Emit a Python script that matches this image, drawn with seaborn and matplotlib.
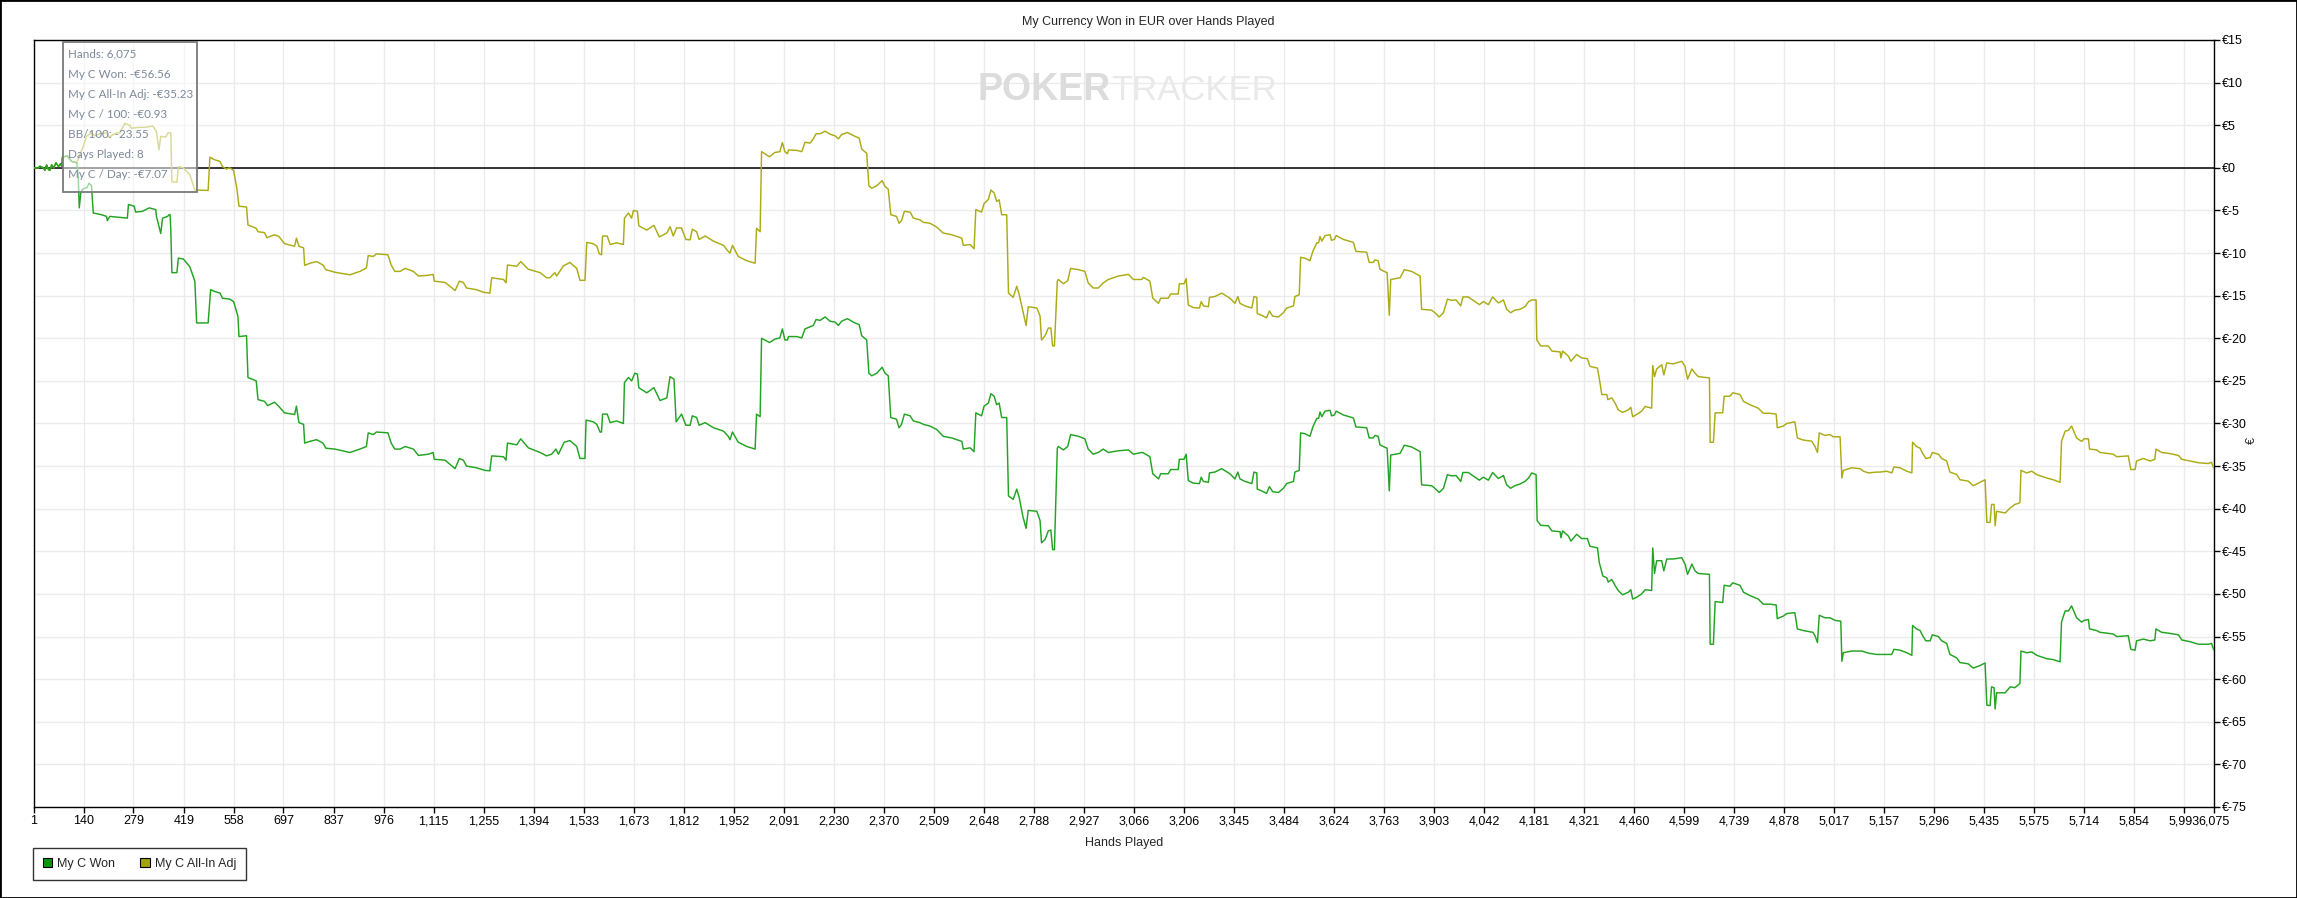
import matplotlib
matplotlib.use("Agg")
import matplotlib.pyplot as plt
from matplotlib.patches import Rectangle, Patch
import seaborn as sns
import pandas as pd

# ---------------- data ----------------
won_hands = [1, 14, 18, 28, 32, 37, 42, 46, 51, 57, 63, 70, 76, 79, 81, 95, 100, 107, 121,
    125, 128, 132, 137, 150, 155, 162, 167, 190, 204, 206, 213, 262, 265, 281, 285, 304, 323, 341, 343,
    355, 360, 374, 378, 381, 383, 386, 400, 404, 418, 436, 450, 455, 487, 494, 505, 520, 527, 547, 558,
    570, 573, 594, 598, 621, 626, 644, 653, 672, 684, 700, 728, 733, 740, 753, 756, 770, 789, 807, 815,
    840, 882, 910, 928, 933, 947, 956, 988, 997, 1007,
    1022, 1036, 1059, 1073, 1101, 1114, 1117, 1147, 1161, 1175, 1187, 1198, 1207, 1235, 1258, 1272, 1277,
    1310, 1317, 1321, 1347, 1358, 1379, 1412, 1430, 1444, 1456, 1463, 1479, 1495, 1514, 1523, 1537, 1540,
    1560, 1570, 1579, 1583, 1586, 1599, 1607, 1625, 1644, 1647, 1658, 1667, 1676, 1683, 1687, 1709, 1729,
    1746, 1765, 1774, 1785, 1791, 1806, 1818, 1830, 1836, 1848, 1855, 1872, 1895, 1923, 1936, 1941, 1948,
    1964, 1988, 2011, 2015, 2025, 2029, 2051, 2066,
    2080, 2087, 2094, 2101, 2104, 2127, 2141, 2150, 2173, 2181, 2192, 2206, 2220, 2234, 2243, 2252, 2268,
    2289, 2301, 2308, 2322, 2328, 2336, 2350, 2365, 2373, 2382, 2389, 2405, 2412, 2419, 2427, 2443, 2452,
    2470, 2480, 2498, 2517, 2535, 2559, 2587, 2591, 2610, 2621, 2626, 2642, 2649, 2661, 2668, 2677, 2684,
    2691, 2698, 2712, 2717, 2730, 2740, 2747, 2757, 2766, 2772, 2796, 2805, 2809, 2819, 2828, 2835, 2840,
    2845, 2853, 2856, 2870, 2882, 2890, 2912, 2930, 2939, 2953, 2967, 2981, 2995, 3023, 3051, 3065, 3088,
    3093, 3111, 3119, 3135, 3141, 3162, 3169, 3190, 3193, 3206, 3212, 3218, 3232, 3249, 3254, 3260, 3274,
    3277, 3292, 3311, 3334, 3348, 3356, 3362, 3376, 3395, 3401, 3409, 3410, 3422, 3436, 3444, 3453, 3469,
    3483, 3492, 3511, 3515, 3527, 3531, 3543, 3557, 3565, 3576, 3581, 3585, 3590, 3599, 3613, 3617, 3625,
    3630, 3650, 3678, 3685, 3715, 3722, 3733, 3738, 3747, 3752, 3761, 3772, 3778, 3782, 3808, 3820, 3840,
    3864, 3868, 3896, 3905, 3917, 3929, 3940, 3952, 3964, 3977, 3983, 3998, 4012, 4029, 4040, 4054, 4066,
    4082, 4096, 4105, 4116, 4128,
    4142, 4156, 4166, 4175, 4187, 4190, 4200, 4221, 4231, 4254, 4256, 4261, 4277, 4284, 4300, 4314, 4330,
    4337, 4358, 4363, 4373, 4384, 4388, 4398, 4407, 4416, 4428, 4444, 4451, 4456, 4467, 4481, 4491, 4509,
    4512, 4517, 4523, 4537, 4543, 4551, 4569, 4593, 4602, 4609, 4621, 4630, 4639, 4670, 4672, 4681, 4686,
    4707, 4711, 4727, 4735, 4755, 4765, 4783, 4806, 4820, 4839, 4856, 4859, 4876, 4885, 4908, 4915, 4932,
    4958, 4964, 4971, 4976, 4992, 5006, 5020, 5036, 5039, 5043, 5066, 5095, 5113, 5136,
    5145, 5178, 5184, 5201, 5220, 5234, 5236, 5247, 5257, 5264, 5273, 5285, 5291, 5308, 5317, 5331, 5340,
    5359, 5368, 5391, 5405, 5424, 5438, 5443, 5452, 5456, 5463, 5466, 5470, 5494, 5508, 5521, 5535, 5538,
    5554, 5568, 5582, 5610, 5628, 5647, 5651, 5661, 5670, 5679, 5693, 5707, 5714, 5726, 5729, 5749, 5758,
    5777, 5795, 5805, 5837, 5844, 5856, 5860, 5879, 5898, 5911, 5914, 5930, 5949, 5977, 5986, 6009, 6032,
    6060, 6069, 6075]

won_values = [0.0, 0.0, 0.2, 0.0, -0.3, 0.35, -0.2, -0.3, 0.35, 0.0, 0.6, 0.15, 0.5, 0.15, 1.25, 1.4, 1.1, 0.75, 0.6,
    -1.0, -4.7, -3.0, -2.5, -2.3, -1.8, -2.1, -5.3, -5.5, -5.7, -6.2, -5.7, -5.9, -4.3, -4.5, -5.2, -5.1, -4.7, -4.9, -5.7,
    -7.7, -5.9, -5.7, -5.5, -5.5, -7.3, -12.3, -12.3, -10.6, -10.7, -11.6, -13.3, -18.2, -18.2, -14.3, -14.5, -14.7, -15.3, -15.4, -15.7,
    -17.4, -19.8, -19.7, -24.6, -25.0, -27.2, -27.4, -27.9, -27.5, -28.0, -28.75, -28.95, -27.97, -29.9, -30.1, -32.3, -32.1, -31.9, -32.3, -32.9,
    -33.0, -33.4, -33.0, -32.7, -31.1, -31.3, -31.0, -31.1, -32.3, -33.0,
    -33.0, -32.7, -33.0, -33.75, -33.6, -33.4, -34.2, -34.3, -34.8, -35.3, -34.1, -34.3, -35.0, -35.2, -35.5, -35.55, -33.8,
    -33.9, -34.3, -32.3, -32.5, -31.8, -32.85, -33.4, -33.8, -33.6, -33.0, -33.6, -32.2, -32.0, -32.7, -34.1, -34.1, -29.6,
    -29.8, -30.1, -31.0, -31.0, -28.9, -28.9, -29.9, -29.7, -30.0, -25.2, -24.6, -25.0, -24.1, -24.2, -25.8, -26.4, -25.8,
    -27.3, -27.0, -24.5, -24.8, -29.8, -28.9, -30.2, -30.2, -29.1, -29.3, -30.2, -29.9, -30.5, -30.9, -31.5, -31.9, -31.0,
    -32.2, -32.7, -33.0, -28.9, -29.2, -20.0, -20.5, -20.1,
    -19.96, -18.9, -20.2, -20.2, -19.8, -19.8, -19.96, -18.9, -18.5, -17.8, -17.9, -17.5, -18.0, -18.1, -18.5, -18.0, -17.7,
    -18.2, -18.4, -19.7, -20.2, -24.1, -24.4, -24.1, -23.4, -24.1, -24.4, -29.3, -29.5, -30.5, -30.1, -28.9, -29.1, -29.7,
    -29.9, -30.1, -30.3, -30.7, -31.5, -31.7, -32.1, -33.0, -32.85, -33.3, -28.75, -29.1, -27.97, -27.6, -26.5, -26.8, -27.8,
    -27.6, -29.3, -29.3, -38.5, -38.9, -37.7, -38.7, -40.9, -42.3, -40.2, -40.3, -41.4, -44.0, -43.6, -42.6, -42.5, -44.8,
    -44.8, -32.9, -32.7, -33.1, -32.7, -31.3, -31.5, -31.8, -33.0, -33.6, -33.4, -33.0, -33.4, -33.2, -33.1, -33.6, -33.4,
    -33.45, -33.9, -35.9, -36.5, -35.9, -35.9, -35.4, -35.4, -34.2, -34.2, -33.6, -36.7, -37.0, -37.05, -36.3, -36.8, -36.9,
    -35.8, -35.7, -35.3, -35.9, -36.5, -35.7, -36.5, -36.8, -37.05, -35.7, -35.8, -37.7, -37.9, -38.2, -37.4, -38.0, -38.1,
    -37.6, -37.05, -36.8, -35.7, -35.5, -31.1, -31.2, -31.5, -30.4, -29.4, -29.4, -28.65, -29.2, -28.55, -28.45, -29.1, -29.0,
    -28.55, -29.0, -29.35, -30.4, -30.5, -31.7, -31.7, -31.4, -31.5, -32.5, -32.7, -32.9, -37.9, -33.7, -33.5, -32.55, -32.75,
    -33.3, -37.2, -37.3, -37.6, -38.1, -37.6, -36.0, -36.15, -36.1, -36.8, -35.75, -35.75, -36.15, -36.65, -36.3, -36.65, -35.75,
    -36.46, -36.1, -37.2, -37.6, -37.3,
    -37.1, -36.8, -36.4, -35.8, -36.0, -41.4, -41.95, -42.0, -42.6, -42.7, -43.4, -42.6, -43.2, -43.8, -43.0, -43.5, -43.5,
    -44.4, -44.6, -46.3, -47.9, -48.1, -48.6, -48.3, -49.0, -49.6, -50.1, -49.8, -49.5, -50.6, -50.4, -50.0, -49.5, -49.6,
    -44.6, -47.6, -46.1, -46.1, -47.3, -45.9, -45.9, -45.75, -46.5, -47.7, -46.5, -47.3, -47.6, -47.7, -55.9, -55.9, -50.9,
    -51.0, -48.98, -49.1, -48.7, -48.98, -49.8, -50.2, -50.6, -51.2, -51.2, -51.3, -52.9, -52.6, -52.3, -52.2, -54.1, -54.3,
    -54.5, -54.9, -55.7, -52.5, -52.8, -52.8, -53.1, -53.2, -57.9, -56.9, -56.7, -56.7, -56.95, -57.1,
    -57.1, -57.1, -56.5, -56.6, -56.9, -57.2, -53.7, -54.1, -54.3, -54.9, -55.5, -55.5, -54.8, -55.0, -55.5, -55.8, -57.1,
    -57.5, -58.05, -58.2, -58.7, -58.4, -58.1, -63.05, -63.1, -60.9, -61.0, -63.5, -61.6, -61.6, -60.9, -61.0, -60.5, -56.7,
    -56.9, -56.8, -57.2, -57.6, -57.7, -57.97, -53.3, -52.0, -52.0, -51.4, -52.8, -53.3, -53.1, -53.0, -54.1, -54.3, -54.5,
    -54.6, -54.7, -55.0, -54.9, -56.5, -56.6, -55.5, -55.3, -55.5, -55.4, -54.1, -54.5, -54.6, -54.8, -55.4, -55.6, -55.9,
    -55.9, -55.8, -56.56]

adj_hands = [1, 14, 18, 28, 32, 37, 42, 46, 51, 57, 63, 70, 76, 79, 81, 95, 100, 107, 121,
    129, 139, 148, 162, 171, 185, 204, 211, 231, 240, 255, 269, 273, 296, 310, 333, 343, 350, 355, 369,
    375, 383, 386, 400, 404, 418, 436, 450, 487, 492, 505, 520, 527, 538, 547, 558, 567, 573, 594, 598,
    621, 626, 644, 651, 672, 684, 700, 728, 733, 740, 753, 756, 770, 789, 807, 815, 840, 882, 910, 928,
    933, 947, 956, 988, 997, 1007,
    1022, 1036, 1059, 1073, 1101, 1114, 1117, 1147, 1161, 1175, 1187, 1198, 1207, 1235, 1254, 1272, 1277,
    1310, 1317, 1321, 1347, 1358, 1379, 1412, 1430, 1439, 1453, 1458, 1477, 1495, 1514, 1523, 1537, 1542,
    1560, 1570, 1577, 1583, 1586, 1599, 1607, 1625, 1644, 1647, 1658, 1667, 1672, 1683, 1687, 1709, 1729,
    1744, 1765, 1774, 1783, 1792, 1806, 1818, 1830, 1836, 1848, 1855, 1872, 1895, 1923, 1936, 1941, 1948,
    1964, 1988, 2011, 2015, 2025, 2029, 2051, 2066,
    2080, 2087, 2094, 2101, 2104, 2127, 2141, 2150, 2164, 2173, 2181, 2192, 2206, 2220, 2234, 2243, 2252,
    2268, 2289, 2301, 2308, 2322, 2328, 2336, 2350, 2365, 2373, 2382, 2389, 2405, 2412, 2419, 2427, 2443,
    2452, 2470, 2480, 2498, 2517, 2535, 2559, 2587, 2591, 2610, 2621, 2626, 2642, 2649, 2661, 2668, 2677,
    2684, 2691, 2698, 2712, 2717, 2730, 2740, 2747, 2757, 2766, 2772, 2796, 2805, 2809, 2819, 2828, 2835,
    2840, 2845, 2853, 2856, 2870, 2882, 2890, 2912, 2930, 2939, 2953, 2967, 2981, 2995, 3023, 3051, 3065,
    3088,
    3093, 3111, 3119, 3135, 3141, 3162, 3169, 3190, 3193, 3206, 3212, 3218, 3232, 3249, 3254, 3260, 3274,
    3277, 3292, 3311, 3334, 3348, 3356, 3362, 3376, 3395, 3401, 3409, 3410, 3422, 3436, 3444, 3453, 3469,
    3483, 3492, 3511, 3515, 3527, 3531, 3543, 3557, 3565, 3576, 3581, 3585, 3590, 3599, 3613, 3617, 3625,
    3630, 3650, 3678, 3685, 3715, 3722, 3733, 3738, 3747, 3752, 3761, 3772, 3778, 3782, 3808, 3820, 3840,
    3864, 3868, 3896, 3905, 3917, 3929, 3940, 3952, 3964, 3977, 3983, 3998, 4012, 4029, 4040, 4054, 4066,
    4082, 4096, 4105, 4116, 4128,
    4142, 4156, 4166, 4175, 4187, 4189, 4200, 4221, 4231, 4254, 4256, 4261, 4277, 4284, 4300, 4314, 4330,
    4337, 4358, 4365, 4370, 4384, 4387, 4398, 4407, 4416, 4428, 4444, 4451, 4456, 4467, 4481, 4491, 4509,
    4512, 4517, 4523, 4537, 4543, 4551, 4569, 4593, 4602, 4609, 4621, 4630, 4639, 4670, 4672, 4681, 4686,
    4707, 4711, 4727, 4735, 4755, 4765, 4783, 4806, 4820, 4839, 4856, 4859, 4876, 4885, 4908, 4915, 4932,
    4955, 4964, 4971, 4976, 4992, 5006, 5015, 5034, 5039, 5043, 5066, 5090, 5099, 5113, 5136,
    5145, 5164, 5178, 5184, 5201, 5220, 5234, 5236, 5247, 5257, 5264, 5273, 5285, 5291, 5308, 5317, 5331,
    5340, 5359, 5368, 5391, 5405, 5424, 5438, 5443, 5452, 5456, 5463, 5466, 5470, 5494, 5508, 5521, 5535,
    5538, 5554, 5568, 5582, 5610, 5628, 5647, 5651, 5661, 5670, 5679, 5693, 5707, 5714, 5726, 5729, 5749,
    5758, 5777, 5795, 5805, 5837, 5844, 5856, 5860, 5879, 5898, 5911, 5914, 5930, 5949, 5977, 5986, 6009,
    6032, 6060, 6069, 6075]

adj_values = [0.0, 0.0, 0.2, 0.0, -0.3, 0.35, -0.2, -0.3, 0.35, 0.0, 0.6, 0.15, 0.5, 0.15, 1.25, 1.4, 1.1, 0.75, 0.6,
    1.5, 2.5, 3.7, 4.1, 3.75, 4.0, 4.1, 3.6, 4.1, 4.1, 5.2, 5.0, 4.65, 4.75, 4.75, 4.9, 4.25, 2.1, 3.7, 3.6,
    4.1, 4.1, -1.6, -1.7, 0.15, 0.0, -0.8, -2.6, -2.65, 1.25, 0.95, 0.75, 0.15, -0.15, 0.0, -0.3, -2.4, -4.5, -4.6, -6.7,
    -7.1, -7.5, -7.6, -8.2, -7.85, -8.05, -8.9, -9.2, -8.25, -9.2, -9.4, -11.45, -11.2, -11.0, -11.4, -11.95, -12.25, -12.55, -12.15, -11.75,
    -10.3, -10.4, -10.1, -10.2, -11.4, -12.15,
    -12.15, -11.8, -12.15, -12.7, -12.6, -12.5, -13.3, -13.45, -13.9, -14.4, -13.3, -13.45, -14.1, -14.3, -14.6, -14.7, -12.9,
    -13.1, -13.5, -11.4, -11.55, -11.0, -11.9, -12.3, -12.9, -12.9, -12.3, -12.7, -11.5, -11.1, -11.8, -13.2, -13.2, -8.75,
    -8.9, -9.2, -10.1, -10.2, -8.0, -8.0, -9.0, -8.8, -9.0, -5.9, -5.3, -5.9, -5.0, -5.1, -6.8, -7.3, -6.75,
    -8.1, -7.65, -6.9, -8.0, -7.05, -7.05, -8.4, -8.45, -7.2, -7.5, -8.4, -8.0, -8.6, -9.1, -9.8, -10.0, -9.1,
    -10.4, -10.9, -11.2, -7.1, -7.5, 1.9, 1.3, 1.8,
    1.9, 2.97, 1.9, 1.65, 2.1, 2.05, 1.9, 3.0, 2.9, 3.4, 4.0, 4.0, 4.3, 3.95, 3.75, 3.4, 3.9,
    4.15, 3.7, 3.5, 2.2, 1.7, -2.1, -2.4, -2.1, -1.5, -2.2, -2.5, -5.5, -5.7, -6.5, -6.2, -5.1, -5.2,
    -5.9, -6.1, -6.4, -6.5, -6.95, -7.65, -7.85, -8.25, -9.1, -9.0, -9.5, -4.9, -5.2, -4.2, -3.7, -2.6, -2.95,
    -3.95, -3.75, -5.5, -5.5, -14.7, -15.2, -13.9, -14.9, -16.8, -18.5, -16.3, -16.45, -17.4, -20.2, -19.7, -18.8, -18.8,
    -20.9, -20.9, -13.3, -13.1, -13.6, -13.25, -11.8, -11.95, -12.15, -13.5, -14.1, -14.1, -13.5, -13.1, -12.7, -12.5, -13.1,
    -13.1,
    -12.85, -13.3, -15.3, -15.9, -15.3, -15.3, -14.8, -14.8, -13.6, -13.6, -13.0, -16.1, -16.4, -16.45, -15.7, -16.2, -16.3,
    -15.2, -15.1, -14.7, -15.3, -15.9, -15.1, -15.9, -16.2, -16.45, -15.1, -15.2, -17.1, -17.3, -17.6, -16.8, -17.4, -17.5,
    -17.0, -16.45, -16.2, -15.1, -14.9, -10.5, -10.6, -10.9, -9.8, -8.8, -8.8, -8.05, -8.6, -7.95, -7.85, -8.5, -8.4,
    -7.95, -8.4, -8.75, -9.8, -9.9, -11.1, -11.1, -10.8, -10.9, -11.9, -12.1, -12.3, -17.3, -13.1, -12.9, -11.95, -12.15,
    -12.7, -16.6, -16.7, -17.0, -17.5, -17.0, -15.4, -15.55, -15.5, -16.2, -15.15, -15.15, -15.55, -16.05, -15.7, -16.05, -15.15,
    -15.86, -15.5, -16.6, -17.0, -16.7,
    -16.6, -16.3, -15.7, -15.5, -15.5, -20.2, -20.9, -20.9, -21.5, -21.6, -22.3, -21.5, -22.1, -22.7, -21.9, -22.3, -22.4,
    -23.3, -23.5, -25.2, -26.6, -26.6, -27.2, -27.0, -27.6, -28.4, -28.7, -28.4, -28.1, -29.2, -28.95, -28.55, -28.0, -28.2,
    -23.2, -24.5, -23.6, -23.1, -24.3, -22.9, -23.0, -22.7, -23.3, -24.8, -23.6, -24.1, -24.5, -24.65, -32.2, -32.2, -28.75,
    -28.75, -26.8, -26.8, -26.4, -26.6, -27.4, -27.8, -28.2, -28.8, -28.8, -28.9, -30.5, -30.3, -30.0, -29.8, -31.7, -31.95,
    -32.07, -32.7, -33.4, -31.1, -31.4, -31.3, -31.56, -31.56, -36.4, -35.5, -35.2, -35.3, -35.6, -35.8, -35.7,
    -35.7, -35.6, -35.8, -35.1, -35.2, -35.6, -35.8, -32.2, -32.7, -32.9, -33.5, -34.1, -34.0, -33.4, -33.6, -34.1, -34.4,
    -35.7, -35.98, -36.6, -36.76, -37.3, -36.9, -36.6, -41.6, -41.6, -39.5, -39.5, -42.0, -40.3, -40.5, -39.9, -39.5, -39.3,
    -35.5, -35.8, -35.6, -36.0, -36.4, -36.6, -36.9, -32.1, -30.9, -30.8, -30.3, -31.7, -32.1, -31.8, -31.8, -33.0, -33.1,
    -33.4, -33.5, -33.6, -33.9, -33.8, -35.4, -35.4, -34.4, -34.1, -34.4, -34.2, -33.0, -33.4, -33.5, -33.75, -34.2, -34.4,
    -34.6, -34.7, -34.55, -35.23]

x_ticks = [1, 140, 279, 419, 558, 697, 837, 976, 1115, 1255, 1394, 1533, 1673, 1812, 1952, 2091, 2230,
           2370, 2509, 2648, 2788, 2927, 3066, 3206, 3345, 3484, 3624, 3763, 3903, 4042, 4181, 4321,
           4460, 4599, 4739, 4878, 5017, 5157, 5296, 5435, 5575, 5714, 5854, 5993, 6075]
y_ticks = [15, 10, 5, 0, -5, -10, -15, -20, -25, -30, -35, -40, -45, -50, -55, -60, -65, -70, -75]

series_names = ["My C Won", "My C All-In Adj"]
title_text = "My Currency Won in EUR over Hands Played"
x_title = "Hands Played"
y_title = "€"
tooltip_lines = ["Hands: 6,075", "My C Won: -€56.56", "My C All-In Adj: -€35.23", "My C / 100: -€0.93",
                 "BB/100: -23.55", "Days Played: 8", "My C / Day: -€7.07"]

# ---------------- styling ----------------
GREEN = "#22a322"
OLIVE = "#abab16"
GREEN_SW = "#0b950b"
OLIVE_SW = "#a3a312"

sns.set_theme(style="white")
plt.rcParams["font.family"] = ["Liberation Sans", "DejaVu Sans"]

W, H = 2297, 898
fig = plt.figure(figsize=(W / 100, H / 100), dpi=100)
fig.patch.set_facecolor("white")

L, R, T, B = 33.7, 2213.7, 40.0, 807.0
ax = fig.add_axes([L / W, 1 - B / H, (R - L) / W, (B - T) / H])
ax.set_facecolor("white")

won_df = pd.DataFrame({"hand": won_hands, "value": won_values})
adj_df = pd.DataFrame({"hand": adj_hands, "value": adj_values})

sns.lineplot(data=adj_df, x="hand", y="value", sort=False, estimator=None, color=OLIVE,
             lw=1.05, ax=ax, zorder=3)
sns.lineplot(data=won_df, x="hand", y="value", sort=False, estimator=None, color=GREEN,
             lw=1.05, ax=ax, zorder=3)

ax.set_xlim(1, 6075)
ax.set_ylim(-75, 15)
ax.set_xticks(x_ticks)
ax.set_xticklabels([f"{t:,}" for t in x_ticks])
ax.set_yticks(y_ticks)
ax.set_yticklabels([f"€{t}" for t in y_ticks])
ax.yaxis.tick_right()
ax.tick_params(axis="both", direction="out", length=4, width=1, color="black",
               labelsize=9, labelcolor="black", pad=2)
ax.tick_params(axis="y", left=False, right=True)
ax.tick_params(axis="x", bottom=True)
ax.grid(True, color="#ebebeb", lw=1, zorder=0)
ax.set_axisbelow(True)
for s in ax.spines.values():
    s.set_visible(True)
    s.set_color("black")
    s.set_linewidth(1)
ax.axhline(0, color="black", lw=1.1, zorder=2)
ax.set_xlabel("")
ax.set_ylabel("")

# watermark
fig.text(978 / W, 1 - 90 / H, "POKER", fontsize=27, fontweight="bold", color="#dcdcdc",
         ha="left", va="center", zorder=0)
fig.text(1111 / W, 1 - 90 / H, "TRACKER", fontsize=25, color="#e9e9e9",
         ha="left", va="center", zorder=0)

# titles
fig.text(W / 2 / W, 1 - 22 / H, title_text, fontsize=9, ha="center", va="center")
fig.text((L + R) / 2 / W, 1 - 843 / H, x_title, fontsize=9, ha="center", va="center")
fig.text(2252 / W, 1 - 441 / H, y_title, fontsize=9, ha="center", va="center", rotation=90)

# tooltip box
fig.add_artist(Rectangle((63 / W, 1 - 192 / H), 134 / W, 150 / H, transform=fig.transFigure,
                         facecolor=(1, 1, 1, 0.55), edgecolor="#7a7a7a", lw=1.3, zorder=10))
for i, line in enumerate(tooltip_lines):
    fig.text(68 / W, 1 - (54.3 + 20 * i) / H, line, fontsize=8.4, color="#7d8899",
             family=["Lato", "DejaVu Sans"], ha="left", va="center", zorder=11)

# legend
handles = [Patch(facecolor=GREEN_SW, edgecolor="black", lw=0.8),
           Patch(facecolor=OLIVE_SW, edgecolor="black", lw=0.8)]
leg = fig.legend(handles, series_names, loc="lower left", bbox_to_anchor=(33 / W, 1 - 880 / H),
                 ncol=2, frameon=True, fancybox=False, edgecolor="black", fontsize=9,
                 handlelength=0.75, handleheight=0.75, handletextpad=0.4, columnspacing=2.0,
                 borderpad=0.8, borderaxespad=0)
leg.get_frame().set_linewidth(1)

# outer border
fig.add_artist(Rectangle((0, 0), 1, 1, transform=fig.transFigure, fill=False,
                         edgecolor="black", lw=2, zorder=20))

fig.savefig("out.png", dpi=100, facecolor="white")
